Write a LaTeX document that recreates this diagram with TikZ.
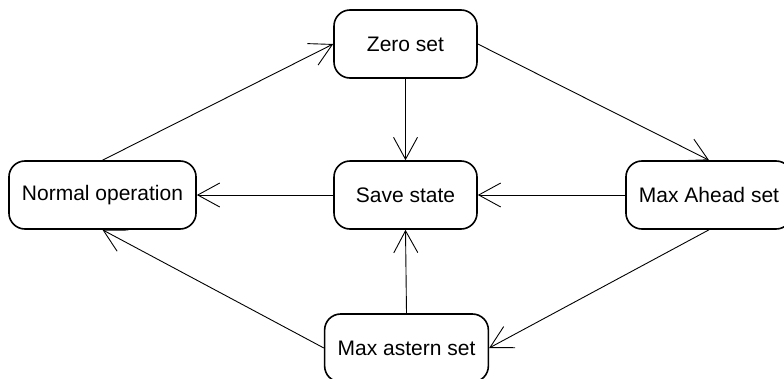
\documentclass[tikz,border=0pt]{standalone}
\usepackage{fontspec}
\setmainfont{Liberation Sans}
\usetikzlibrary{arrows.meta}
\tikzset{
  statebox/.style={draw, line width=1.6pt, rounded corners=16pt,
    minimum width=143pt, minimum height=68pt, inner xsep=13pt,
    font=\fontsize{21}{25}\selectfont},
  trans/.style={line width=0.9pt, -{Straight Barb[length=22pt,width=24pt,line width=0.9pt]}}
}
\begin{document}
\begin{tikzpicture}[x=1pt, y=-1pt]
    % Fix the frame of the picture
    \clip (0,0) rectangle (784,378);

    % Draw the states
    \node[statebox] (normal) at (102.5,195) {Normal operation};
    \node[statebox] (zero) at (405.5,44) {Zero set};
    \node[statebox] (save) at (405.5,195) {Save state};
    \node[statebox] (ahead) at (709,195) {Max Ahead set};
    \node[statebox] (astern) at (406.5,348) {Max astern set};

    % Draw the transitions
    \draw[trans] (normal.north) -- (zero.west);
    \draw[trans] (zero.east) -- (ahead.north);
    \draw[trans] (zero.south) -- (save.north);
    \draw[trans] (save.west) -- (normal.east);
    \draw[trans] (ahead.west) -- (save.east);
    \draw[trans] (ahead.south) -- (astern.east);
    \draw[trans] (astern.north) -- (save.south);
    \draw[trans] (astern.west) -- (normal.south);
\end{tikzpicture}
\end{document}
